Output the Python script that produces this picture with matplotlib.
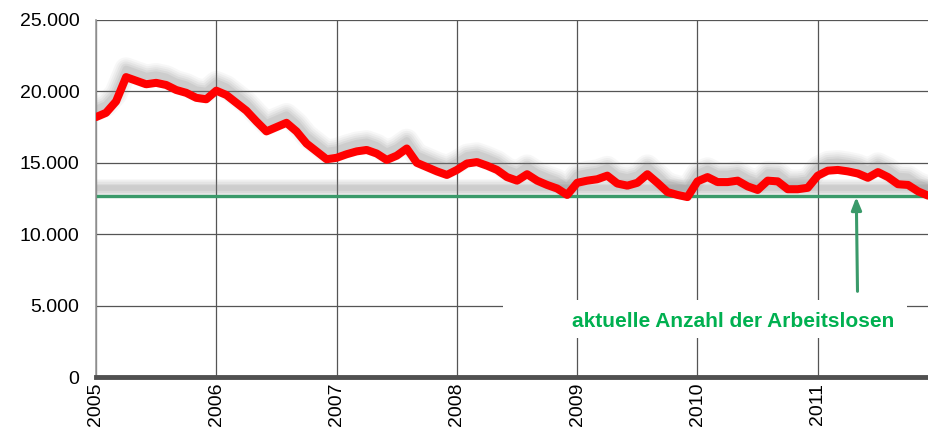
import numpy as np
import matplotlib
matplotlib.use('Agg')
import matplotlib.pyplot as plt
from matplotlib import transforms

plt.rcParams['font.family'] = ['Liberation Sans', 'DejaVu Sans']

# Arbeitslose, monatlich Jan 2005 - Dez 2011 (in Tausend)
arbeitslose_2005 = [18.2, 18.5, 19.3, 21.0, 20.75, 20.5, 20.6, 20.45, 20.1, 19.9, 19.55, 19.45]
arbeitslose_2006 = [20.05, 19.75, 19.2, 18.65, 17.9, 17.2, 17.5, 17.8, 17.2, 16.35, 15.8, 15.25]
arbeitslose_2007 = [15.35, 15.6, 15.8, 15.9, 15.65, 15.2, 15.5, 16.0, 15.0, 14.7, 14.4, 14.15]
arbeitslose_2008 = [14.5, 14.95, 15.05, 14.8, 14.5, 14.0, 13.75, 14.2, 13.75, 13.45, 13.2, 12.75]
arbeitslose_2009 = [13.6, 13.75, 13.85, 14.1, 13.55, 13.4, 13.6, 14.2, 13.6, 12.95, 12.75, 12.6]
arbeitslose_2010 = [13.7, 14.0, 13.65, 13.65, 13.75, 13.35, 13.1, 13.75, 13.7, 13.15, 13.15, 13.25]
arbeitslose_2011 = [14.1, 14.45, 14.5, 14.4, 14.25, 13.95, 14.35, 14.0, 13.5, 13.45, 13.0, 12.7]
aktuell = 12700
jahre = [2005, 2006, 2007, 2008, 2009, 2010, 2011]
y_ticks = [0, 5000, 10000, 15000, 20000, 25000]
y_labels = ['0', '5.000', '10.000', '15.000', '20.000', '25.000']
text_label = 'aktuelle Anzahl der Arbeitslosen'

werte = np.array(arbeitslose_2005 + arbeitslose_2006 + arbeitslose_2007 + arbeitslose_2008
                 + arbeitslose_2009 + arbeitslose_2010 + arbeitslose_2011) * 1000
monate = 2005 + np.arange(len(werte)) / 12.0

fig = plt.figure(figsize=(9.29, 4.30), dpi=100)
ax = fig.add_axes([96/929, 1-377/430, 833/929, 357/430])

# Schatten (nach oben versetzt, weichgezeichnet)
shadow = transforms.offset_copy(ax.transData, fig=fig, x=0, y=8, units='dots')
for lw, a in [(17, 0.06), (14, 0.07), (11, 0.09), (8, 0.11), (5, 0.13)]:
    ax.plot(monate, werte, color='gray', lw=lw, alpha=a, transform=shadow,
            solid_capstyle='round', solid_joinstyle='round', zorder=2)
    ax.plot([2005.02, monate[-1] + 0.1], [aktuell, aktuell], color='gray', lw=lw*0.8,
            alpha=a, transform=shadow, zorder=2)

ax.plot([2005.02, monate[-1] + 0.1], [aktuell, aktuell], color='#3a9a6a', lw=2.4, zorder=3)
ax.plot(monate, werte, color='#ff0000', lw=5.8, solid_capstyle='round',
        solid_joinstyle='round', zorder=4)

ax.set_xlim(2005, 2005 + 833/120.3)
ax.set_ylim(0, 25000)
ax.set_yticks(y_ticks)
ax.set_yticklabels(y_labels, fontsize=14)
ax.set_xticks(jahre)
ax.set_xticklabels([str(j) for j in jahre], rotation=90, fontsize=14)
ax.tick_params(length=0, pad=12)
ax.tick_params(axis='x', pad=4)
ax.grid(True, color='#555555', lw=0.9, zorder=0)
ax.set_axisbelow(True)
for s in ['top', 'right']:
    ax.spines[s].set_visible(False)
ax.spines['left'].set_color('#999999')
ax.spines['left'].set_linewidth(1.2)
ax.spines['bottom'].set_color('#505050')
ax.spines['bottom'].set_linewidth(3.5)

# Textfeld mit weissem Hintergrund
ax.add_patch(plt.Rectangle((0.488, 0.11), 0.486, 0.105, transform=ax.transAxes,
                           facecolor='white', edgecolor='none', zorder=5))
ax.text(0.765, 0.155, text_label, transform=ax.transAxes, ha='center', va='center',
        fontsize=15, fontweight='bold', color='#00b050', zorder=6)

ax.annotate('', xy=(2011.32, aktuell - 100), xytext=(2011.33, 6000),
            arrowprops=dict(arrowstyle='-|>,head_length=0.75,head_width=0.3',
                            color='#3a9a6a', lw=2.2, shrinkA=0, shrinkB=0), zorder=6)

fig.savefig('out.png', dpi=100)
